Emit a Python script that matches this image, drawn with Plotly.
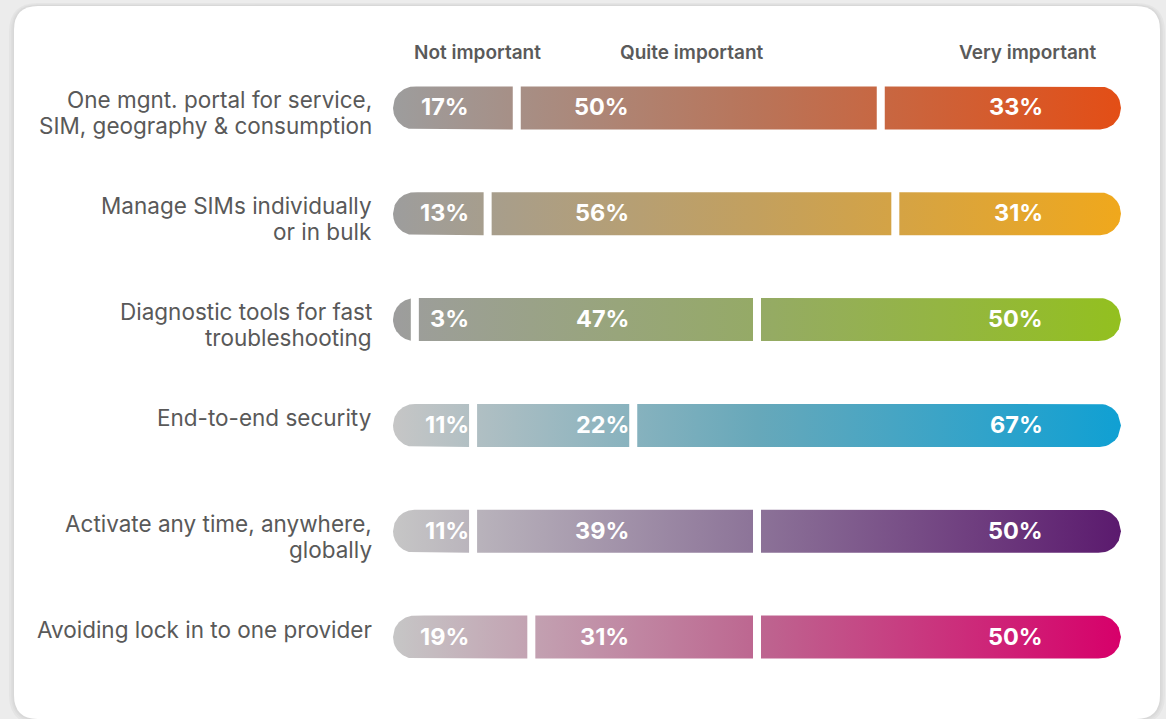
import numpy as np
import plotly.graph_objects as go

# ---------------- data ----------------
categories = [
    "One mgnt. portal for service,<br>SIM, geography & consumption",
    "Manage SIMs individually<br>or in bulk",
    "Diagnostic tools for fast<br>troubleshooting",
    "End-to-end security",
    "Activate any time, anywhere,<br>globally",
    "Avoiding lock in to one provider",
]
not_important = [17, 13, 3, 11, 11, 19]
quite_important = [50, 56, 47, 22, 39, 31]
very_important = [33, 31, 50, 67, 50, 50]
headers = ["Not important", "Quite important", "Very important"]

# ---------------- styles ----------------
# (left, middle, right) gradient colours per row
row_colors = [
    ("#9d9d9d", "#b97459", "#e34e16"),
    ("#9d9d9d", "#c3a05e", "#f0a81c"),
    ("#9d9d9d", "#95aa66", "#93c01f"),
    ("#c6c6c6", "#67a8ba", "#10a0d3"),
    ("#c6c6c6", "#8c7398", "#5b1a6e"),
    ("#c6c6c6", "#bd6690", "#d7006a"),
]
FONT = "Inter"
W, H = 1166, 719
ML, MR, MT, MB = 393, 45, 55, 29
PW = W - ML - MR
PH = H - MT - MB
n = len(categories)
px_x = PW / 100.0
px_y = PH / n
RADIUS_PX = 21.5
rx = RADIUS_PX / px_x
ry = RADIUS_PX / px_y
half_gap = 4.0 / px_x


def half_height(x):
    x = np.asarray(x, dtype=float)
    h = np.full_like(x, ry)
    left = x < rx
    right = x > 100 - rx
    h[left] = ry * np.sqrt(np.clip(1 - ((rx - x[left]) / rx) ** 2, 0, 1))
    h[right] = ry * np.sqrt(np.clip(1 - ((x[right] - (100 - rx)) / rx) ** 2, 0, 1))
    return h


fig = go.Figure()
for i in range(n):
    vals = [not_important[i], quite_important[i], very_important[i]]
    edges = np.concatenate([[0], np.cumsum(vals)])
    c0, cm, c1 = row_colors[i]
    for k in range(3):
        a = edges[k] + (half_gap if k > 0 else 0)
        b = edges[k + 1] - (half_gap if k < 2 else 0)
        xs = np.linspace(a, b, 160)
        h = half_height(xs)
        px = np.concatenate([xs, xs[::-1], [xs[0]]])
        py = np.concatenate([i - h, (i + h)[::-1], [i - h[0]]])
        fig.add_trace(go.Scatter(
            x=px, y=py, mode="lines", fill="toself",
            line=dict(width=0, color="rgba(0,0,0,0)"),
            fillgradient=dict(type="horizontal",
                              colorscale=[[0, c0], [0.5, cm], [1, c1]],
                              start=0, stop=100),
            hoverinfo="skip", showlegend=False,
        ))

# value labels (right-aligned in fixed columns)
label_cols_px = [470.5, 630.5, 1044.5]
for i in range(n):
    vals = [not_important[i], quite_important[i], very_important[i]]
    for k in range(3):
        fig.add_annotation(
            x=(label_cols_px[k] - ML) / px_x, y=i, xref="x", yref="y",
            text=f"{vals[k]}%", showarrow=False,
            xanchor="right", yanchor="middle", yshift=1,
            font=dict(family="Inter", size=23.5, color="white", weight=700),
        )

# category labels (one annotation per line for tight line spacing)
for i, cat in enumerate(categories):
    for j, line in enumerate(cat.split("<br>")):
        fig.add_annotation(
            x=(374 - ML) / PW, y=i, xref="paper", yref="y",
            text=line, showarrow=False, xanchor="right", yanchor="middle",
            align="right", yshift=8 - 26 * j,
            font=dict(family=FONT, size=22.5, color="#595959"),
        )

# headers
header_px = [477, 692, 1027]
for t, hx in zip(headers, header_px):
    fig.add_annotation(
        x=(hx - ML) / PW, y=1 - (52 - MT) / PH, xref="paper", yref="paper",
        text=t, showarrow=False, xanchor="center", yanchor="middle",
        font=dict(family=FONT, size=19, color="#5a5a5a", weight=600),
    )


# card background
def pxp(x, y):
    return (x - ML) / PW, 1 - (y - MT) / PH


def rounded_rect(x0, y0, x1, y1, r):
    def P(x, y):
        fx, fy = pxp(x, y)
        return f"{fx:.5f},{fy:.5f}"
    return (f"M {P(x0 + r, y0)} L {P(x1 - r, y0)} Q {P(x1, y0)} {P(x1, y0 + r)} "
            f"L {P(x1, y1 - r)} Q {P(x1, y1)} {P(x1 - r, y1)} "
            f"L {P(x0 + r, y1)} Q {P(x0, y1)} {P(x0, y1 - r)} "
            f"L {P(x0, y0 + r)} Q {P(x0, y0)} {P(x0 + r, y0)} Z")


for off, col in [(5, "#e4e4e4"), (3, "#dedede"), (1.5, "#d8d8d8")]:
    fig.add_shape(type="path", xref="paper", yref="paper", layer="below",
                  path=rounded_rect(14 - off, 6 - off * 0.6, 1160 + off, 719 + off, 24 + off),
                  fillcolor=col, line=dict(width=0))
fig.add_shape(type="path", xref="paper", yref="paper", layer="below",
              path=rounded_rect(14, 6, 1160, 719, 24),
              fillcolor="white", line=dict(width=0))

fig.update_layout(
    width=W, height=H, autosize=False,
    margin=dict(l=ML, r=MR, t=MT, b=MB),
    paper_bgcolor="#ececec", plot_bgcolor="rgba(0,0,0,0)",
    xaxis=dict(range=[0, 100], visible=False, fixedrange=True),
    yaxis=dict(range=[n - 0.5, -0.5], visible=False, fixedrange=True),
    showlegend=False,
)

fig.write_html("out.html")
